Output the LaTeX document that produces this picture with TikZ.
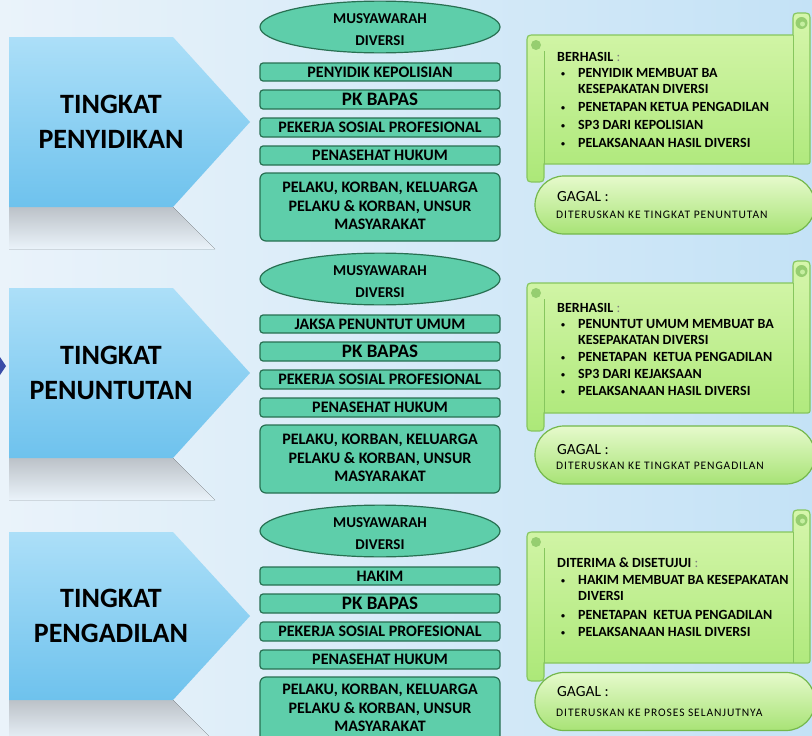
\documentclass[tikz,border=0pt]{standalone}
\usepackage{fontspec}
\setmainfont{Carlito}
\usetikzlibrary{shapes.geometric}
\definecolor{bgL}{RGB}{234,243,250}
\definecolor{bgM}{RGB}{250,252,254}
\definecolor{bgR}{RGB}{196,226,246}
\definecolor{arrT}{RGB}{172,223,248}
\definecolor{arrB}{RGB}{110,194,237}
\definecolor{refl}{RGB}{188,194,200}
\definecolor{tealF}{RGB}{94,206,170}
\definecolor{tealD}{RGB}{40,112,82}
\definecolor{scrT}{RGB}{214,246,172}
\definecolor{scrB}{RGB}{172,232,120}
\definecolor{scrD}{RGB}{134,198,94}
\definecolor{scrC}{RGB}{150,206,112}
\definecolor{gagT}{RGB}{230,250,204}
\definecolor{gagB}{RGB}{168,227,118}
\definecolor{gagD}{RGB}{116,184,76}
\definecolor{navy}{RGB}{58,76,168}
\tikzset{
  titletext/.style={align=center, inner sep=0pt, font=\bfseries\fontsize{28}{35}\selectfont},
  mbox/.style={draw=tealD, fill=tealF, line width=1.2pt, rounded corners=3pt,
    minimum width=240pt, inner sep=0pt, align=center,
    font=\bfseries\fontsize{16}{18.6}\selectfont},
  mell/.style={ellipse, draw=tealD, fill=tealF, line width=1.2pt, minimum width=240pt,
    minimum height=48pt, inner sep=0pt, align=center,
    font=\bfseries\fontsize{15}{21.5}\selectfont},
  scrollbody/.style={top color=scrT, bottom color=scrB, draw=scrD, line width=1.2pt},
  scrtext/.style={anchor=base west, inner sep=0pt, font=\bfseries\fontsize{14}{17}\selectfont},
  bul/.style={anchor=base west, inner sep=0pt, font=\bfseries\fontsize{8}{17}\selectfont},
  gagalbox/.style={draw=gagD, top color=gagT, bottom color=gagB, line width=1.2pt,
    rounded corners=29pt, minimum width=280pt, minimum height=58pt, inner sep=0pt},
  gagtitle/.style={anchor=west, inner sep=0pt, font=\fontsize{15.5}{17}\selectfont},
  gagsmall/.style={anchor=west, inner sep=0pt, font=\addfontfeature{LetterSpace=8}\fontsize{11.5}{13}\selectfont}
}
\newcommand\tarrow[4]{% #1 name, #2 top, #3 bottom, #4 text
  \fill[top color=refl, bottom color=bgL] (9,#3) -- (173,#3) -- (215,#3+42) -- (9,#3+42) -- cycle;
  \shade[top color=arrT, bottom color=arrB] (9,#2) -- (173,#2) -- (250,{(#2+#3)/2}) -- (173,#3) -- (9,#3) -- cycle;
  \node[titletext] (#1) at (111,{(#2+#3)/2}) {#4};
}
\newcommand\midcol[4]{% #1 prefix, #2 shift, #3 first box, #4 big box centre
  \begin{scope}[yshift=-#2pt]
  \node[mell] (#1e) at (380,27) {\rule{0pt}{15pt}MUSYAWARAH\\DIVERSI};
  \node[mbox, minimum height=18pt] (#1a) at (380,72) {#3};
  \node[mbox, minimum height=19pt, font=\bfseries\fontsize{19}{20}\selectfont] (#1b) at (380,99.5) {PK BAPAS};
  \node[mbox, minimum height=19pt] (#1c) at (380,127.5) {PEKERJA SOSIAL PROFESIONAL};
  \node[mbox, minimum height=19pt] (#1d) at (380,155.5) {PENASEHAT HUKUM};
  \node[mbox, minimum height=68pt, rounded corners=6pt] (#1f) at (380,207) {};
  \node[inner sep=0pt, align=center, font=\bfseries\fontsize{16}{18.6}\selectfont] (#1g) at (380,#4) {PELAKU, KORBAN, KELUARGA\\PELAKU \& KORBAN, UNSUR\\MASYARAKAT};
  \end{scope}
}
\newcommand\scrollshape[2]{% #1 top, #2 bottom
  \draw[scrollbody] (527,#1+8.5) .. controls (527,#1) .. (535.5,#1) -- (793,#1)
    -- (793,#1-13.5) .. controls (793,#1-22) .. (801.5,#1-22) .. controls (810,#1-22) .. (810,#1-13.5)
    -- (810,#2-5) .. controls (810,#2) .. (805,#2) -- (544,#2)
    -- (544,#2+9.5) .. controls (544,#2+18) .. (535.5,#2+18) .. controls (527,#2+18) .. (527,#2+9.5) -- cycle;
  \draw[scrD, line width=0.7pt] (793,#1) -- (793,#2);
  \draw[scrD, line width=0.7pt] (544,#1+16) -- (544,#2);
  \fill[scrC] (801.5,#1-12) circle[radius=6pt];
  \fill[scrB!70!white] (802.5,#1-11) circle[radius=2.5pt];
  \fill[scrC] (536,#1+10) circle[radius=5pt];
}
\begin{document}
\begin{tikzpicture}[x=1pt,y=-1pt]
\useasboundingbox (0,0) rectangle (812,736);
\clip (0,0) rectangle (812,736);
\shade[left color=bgL, middle color=bgM, right color=bgR] (0,0) rectangle (812,736);

% left arrows
\tarrow{t1}{37}{207}{TINGKAT\\PENYIDIKAN}
\tarrow{t2}{288}{458}{TINGKAT\\PENUNTUTAN}
\tarrow{t3}{532}{700}{TINGKAT\\PENGADILAN}
\fill[navy] (0,357) -- (6,366) -- (0,375) -- cycle;

% middle columns
\midcol{a}{0}{PENYIDIK KEPOLISIAN}{206}
\midcol{b}{252}{JAKSA PENUNTUT UMUM}{206}
\midcol{c}{504}{HAKIM}{204}

% scrolls
\scrollshape{35}{164}
\scrollshape{283}{413}
\scrollshape{532}{663}

% scroll 1 text
\node[scrtext] (s1h) at (557,61) {BERHASIL \textmd{\color{gray}:}};
\node[bul] (s1b1) at (561,76) {•};
\node[scrtext] (s1l1) at (578,77) {PENYIDIK MEMBUAT BA};
\node[scrtext] (s1l2) at (578,93) {KESEPAKATAN DIVERSI};
\node[bul] (s1b2) at (561,110) {•};
\node[scrtext] (s1l3) at (578,111) {PENETAPAN KETUA PENGADILAN};
\node[bul] (s1b3) at (561,128) {•};
\node[scrtext] (s1l4) at (578,129) {SP3 DARI KEPOLISIAN};
\node[bul] (s1b4) at (561,146) {•};
\node[scrtext] (s1l5) at (578,147) {PELAKSANAAN HASIL DIVERSI};

% scroll 2 text
\node[scrtext] (s2h) at (557,312) {BERHASIL \textmd{\color{gray}:}};
\node[bul] (s2b1) at (561,327) {•};
\node[scrtext] (s2l1) at (578,328) {PENUNTUT UMUM MEMBUAT BA};
\node[scrtext] (s2l2) at (578,344) {KESEPAKATAN DIVERSI};
\node[bul] (s2b2) at (561,360) {•};
\node[scrtext] (s2l3) at (578,361) {PENETAPAN\ \ KETUA PENGADILAN};
\node[bul] (s2b3) at (561,377) {•};
\node[scrtext] (s2l4) at (578,378) {SP3 DARI KEJAKSAAN};
\node[bul] (s2b4) at (561,394) {•};
\node[scrtext] (s2l5) at (578,395) {PELAKSANAAN HASIL DIVERSI};

% scroll 3 text
\node[scrtext] (s3h) at (557,567) {DITERIMA \& DISETUJUI \textmd{\color{gray}:}};
\node[bul] (s3b1) at (561,583) {•};
\node[scrtext] (s3l1) at (578,584) {HAKIM MEMBUAT BA KESEPAKATAN};
\node[scrtext] (s3l2) at (578,600) {DIVERSI};
\node[bul] (s3b2) at (561,618) {•};
\node[scrtext] (s3l3) at (578,619) {PENETAPAN\ \ KETUA PENGADILAN};
\node[bul] (s3b3) at (561,635) {•};
\node[scrtext] (s3l4) at (578,636) {PELAKSANAAN HASIL DIVERSI};

% gagal boxes
\node[gagalbox] (g1) at (675,205) {};
\node[gagtitle] (g1t) at (557,197) {GAGAL :};
\node[gagsmall] (g1s) at (556,215) {DITERUSKAN KE TINGKAT PENUNTUTAN};
\node[gagalbox] (g2) at (675,455) {};
\node[gagtitle] (g2t) at (557,450) {GAGAL :};
\node[gagsmall] (g2s) at (556,466) {DITERUSKAN KE TINGKAT PENGADILAN};
\node[gagalbox] (g3) at (675,701.5) {};
\node[gagtitle] (g3t) at (557,692) {GAGAL :};
\node[gagsmall] (g3s) at (556,713) {DITERUSKAN KE PROSES SELANJUTNYA};
\end{tikzpicture}
\end{document}
